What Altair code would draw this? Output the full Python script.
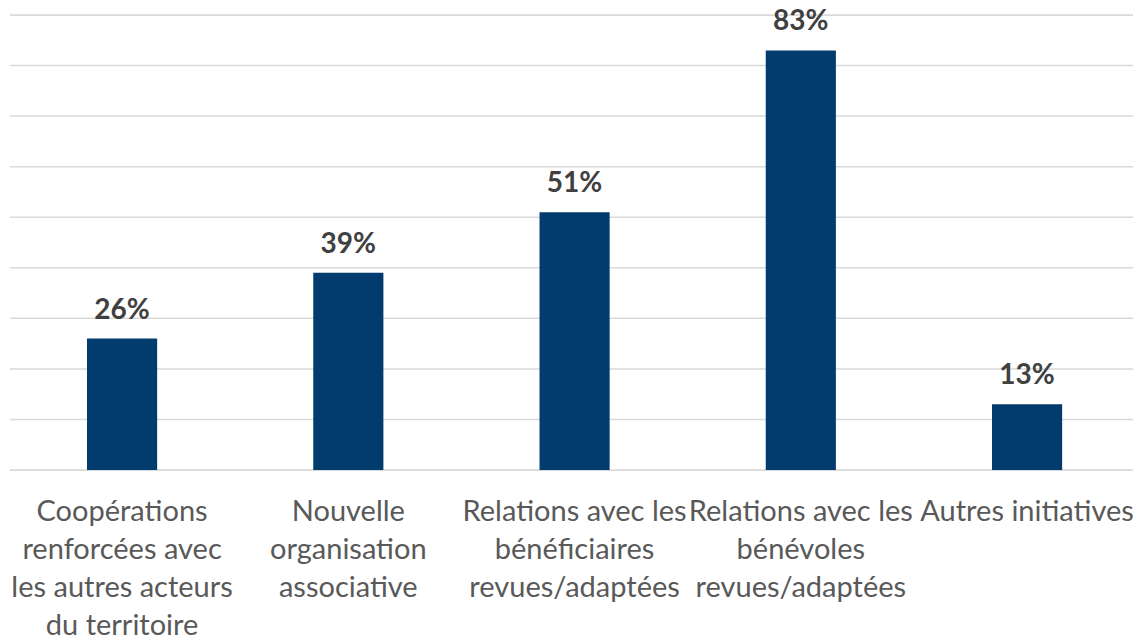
import altair as alt
import pandas as pd

categories = [
    "Coopérations|renforcées avec|les autres acteurs|du territoire",
    "Nouvelle|organisation|associative",
    "Relations avec les|bénéficiaires|revues/adaptées",
    "Relations avec les|bénévoles|revues/adaptées",
    "Autres initiatives",
]
values = [0.26, 0.39, 0.51, 0.83, 0.13]
labels = ["26%", "39%", "51%", "83%", "13%"]
grid_values = [0.0, 0.1, 0.2, 0.3, 0.4, 0.5, 0.6, 0.7, 0.8, 0.9]

W = 1124
H = 455
df = pd.DataFrame({"cat": categories, "val": values, "lab": labels})
grid_df = pd.DataFrame({"val": grid_values})

x = alt.X(
    "cat:N",
    sort=None,
    scale=alt.Scale(paddingInner=0.69, paddingOuter=0.329, align=0.524),
    axis=alt.Axis(
        title=None,
        labelExpr="split(datum.label, '|')",
        labelAngle=0,
        labelFont="Lato",
        labelFontSize=29,
        labelColor="#595959",
        labelLineHeight=38,
        labelPadding=27,
        labelOverlap=False,
        labelLimit=0,
        labelBaseline="top",
        domain=False,
        ticks=False,
        grid=False,
    ),
)
y = alt.Y("val:Q", scale=alt.Scale(domain=[0, 0.9], nice=False), axis=None)

grid = alt.Chart(grid_df).mark_rule(color="#d9d9d9", strokeWidth=1.5).encode(
    y=y, x=alt.value(0), x2=alt.value(W)
)
bars = alt.Chart(df).mark_bar(color="#023B6E").encode(x=x, y=y)
text = alt.Chart(df).mark_text(
    font="Lato", fontSize=28, fontWeight="bold", color="#404040",
    baseline="alphabetic", dy=-20,
).encode(x=x, y=y, text="lab:N")
edge = alt.Chart(grid_df).mark_rule(color="white", strokeWidth=2).encode(
    x=alt.value(0), y=alt.value(-2), y2=alt.value(H + 2)
)

chart = (
    alt.layer(grid, bars, text, edge)
    .properties(
        width=W, height=H,
        padding={"left": 1, "top": 7, "right": 0, "bottom": 165},
        autosize=alt.AutoSizeParams(type="none"),
    )
    .configure_view(stroke=None, strokeWidth=0)
    .configure(background="white")
)
chart.save("out.html", embed_options={"renderer": "svg", "actions": False})
